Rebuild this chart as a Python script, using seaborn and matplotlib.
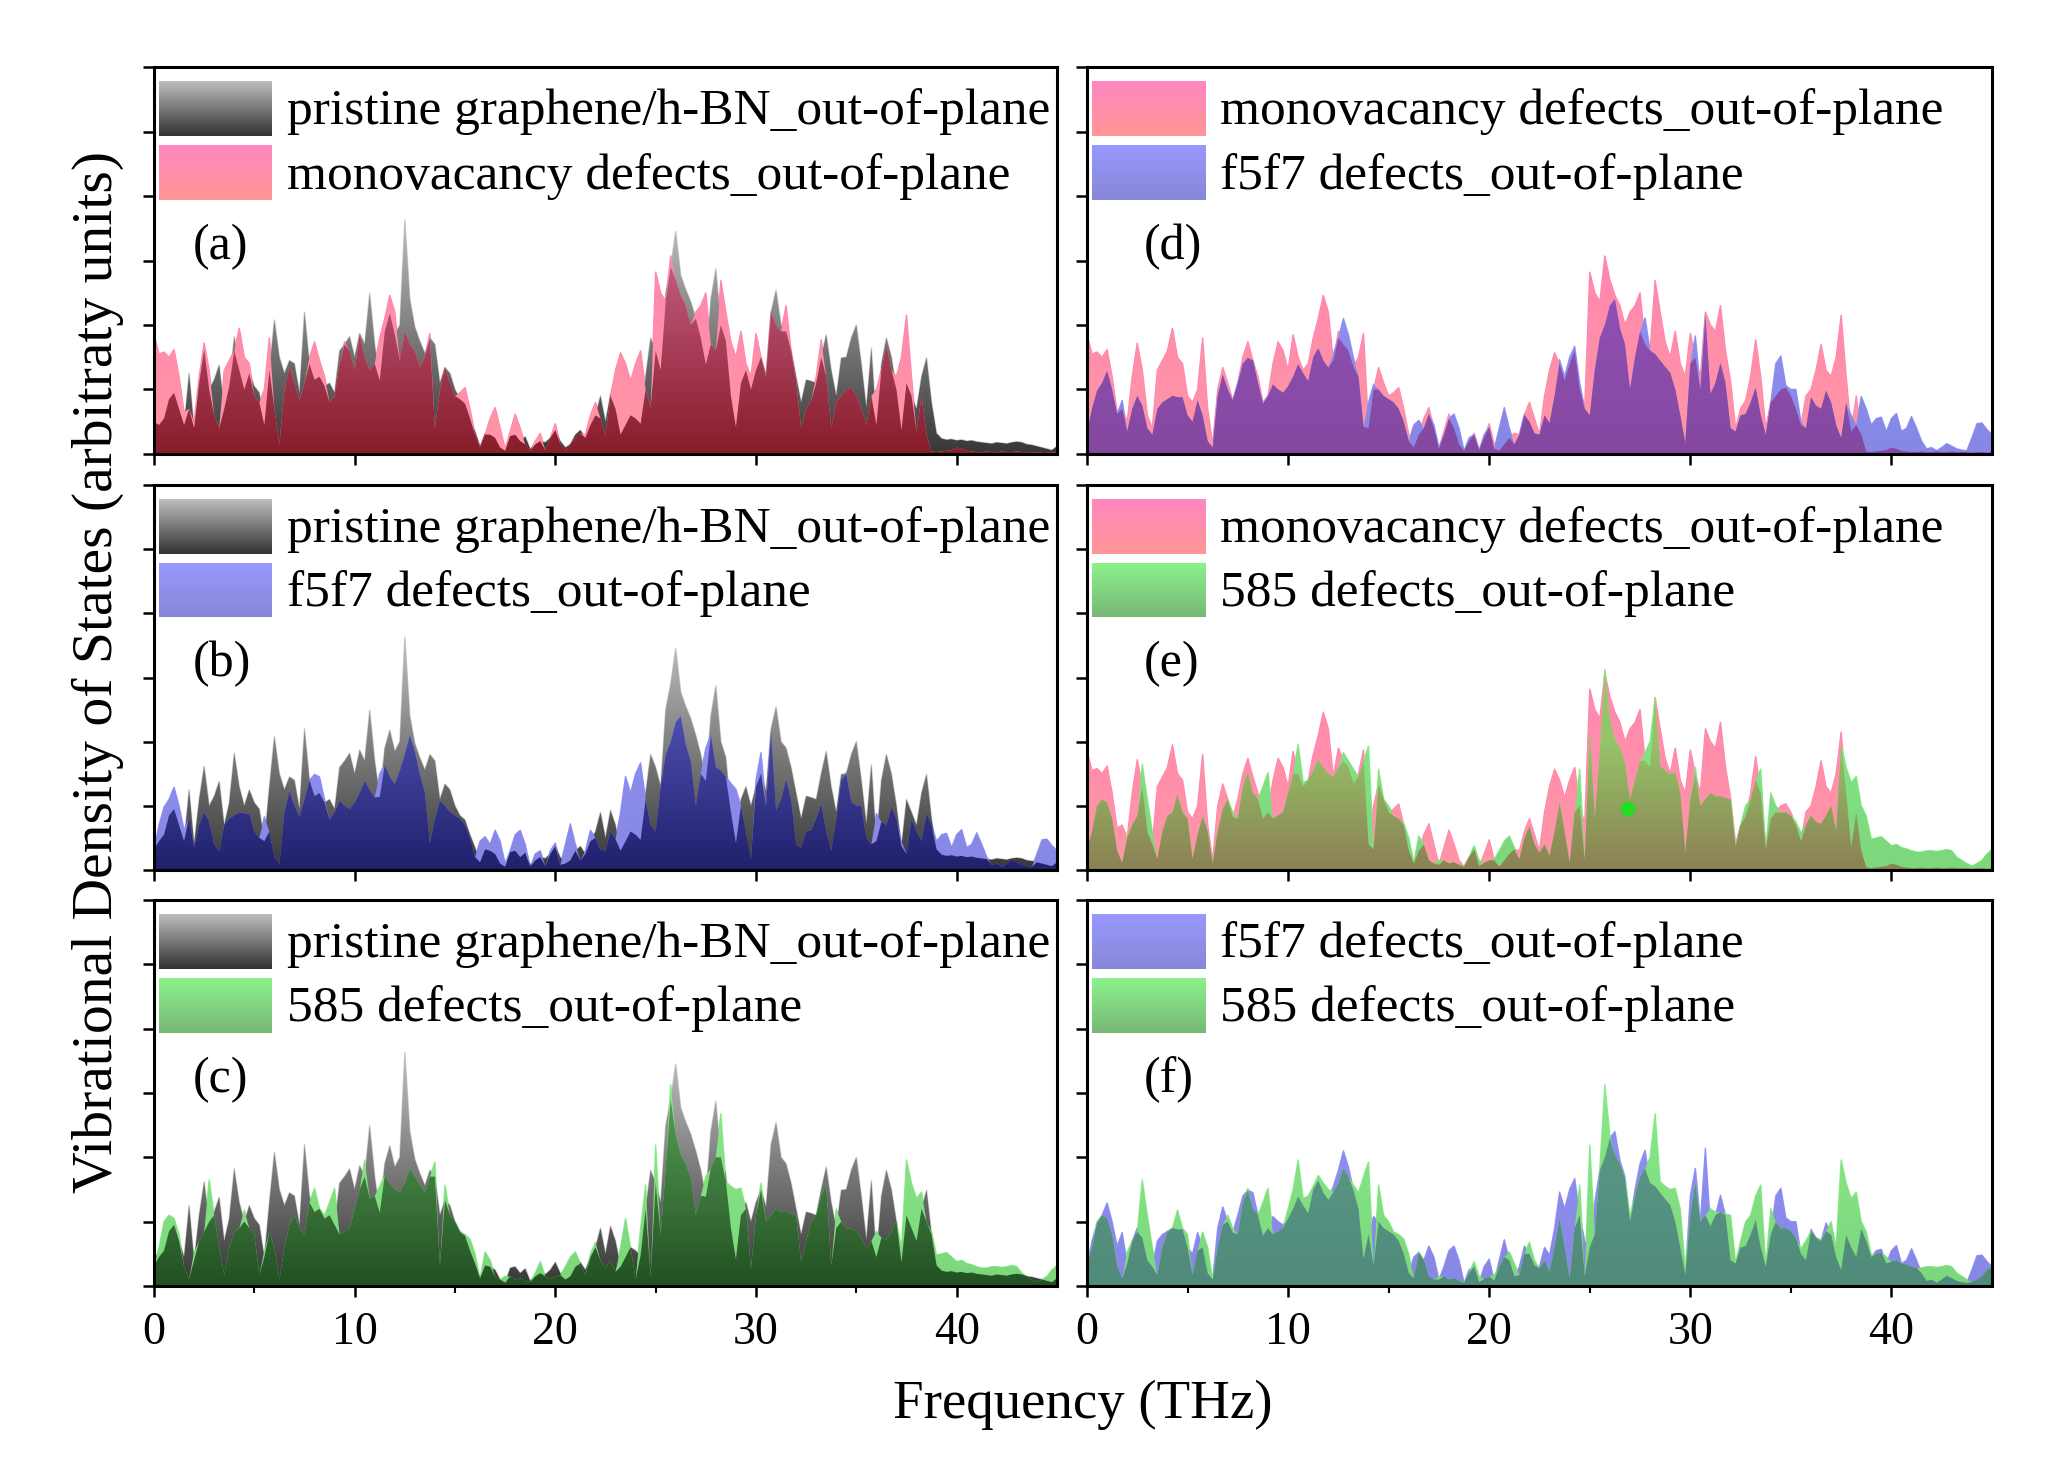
import numpy as np
import matplotlib
matplotlib.use("Agg")
import matplotlib.pyplot as plt
import seaborn as sns

# ---------------- data (arbitrary units, 0.25 THz grid, 0..45 THz) ----------------
freq = np.linspace(0, 45, 181)

pristine = [
    0.50,0.45,0.55,0.85,0.95,0.70,0.45,1.25,0.40,1.10,1.62,1.00,1.15,1.38,0.70,1.05,1.82,1.30,1.00,1.25,
    1.05,0.95,0.45,1.30,2.08,1.50,1.25,1.45,1.40,0.95,2.20,1.40,1.15,1.20,1.05,1.10,0.95,1.60,1.70,1.82,
    1.50,1.87,1.70,2.49,1.70,1.14,1.90,2.18,1.85,2.00,3.63,2.40,1.97,1.75,1.56,1.80,1.70,1.10,1.34,1.25,
    1.00,0.85,0.78,0.55,0.35,0.12,0.32,0.30,0.25,0.10,0.05,0.28,0.30,0.20,0.27,0.08,0.15,0.20,0.18,0.25,
    0.37,0.20,0.10,0.15,0.30,0.37,0.25,0.45,0.60,0.90,0.50,0.93,0.70,0.30,0.45,0.60,0.55,0.47,1.20,1.80,
    1.60,1.30,2.50,2.90,3.45,2.77,2.55,2.36,2.10,1.80,1.39,2.40,2.87,2.00,1.75,0.90,0.42,1.10,1.30,1.00,
    1.30,1.50,1.23,2.20,2.54,2.00,1.90,1.60,1.20,0.80,1.15,1.13,1.10,1.50,1.85,1.30,0.90,1.49,1.50,1.80,
    2.00,1.40,0.72,1.64,0.45,1.40,1.80,1.50,1.00,0.37,1.10,0.90,0.70,1.20,1.49,0.80,0.32,0.24,0.22,0.23,
    0.21,0.22,0.20,0.21,0.19,0.18,0.17,0.16,0.18,0.17,0.16,0.18,0.19,0.18,0.15,0.14,0.12,0.10,0.08,0.06,
    0.12]

monovacancy = [
    1.85,1.55,1.58,1.50,1.62,1.20,0.65,0.70,0.50,1.20,1.72,1.30,0.60,0.40,1.30,1.45,1.60,1.95,1.50,1.40,
    0.90,0.80,1.00,1.80,0.70,0.15,1.00,1.34,1.10,0.83,1.10,1.50,1.74,1.45,1.20,0.80,0.90,1.40,1.74,1.60,
    1.30,1.85,1.50,1.30,1.40,1.80,2.10,2.46,2.20,1.45,1.90,1.70,1.60,1.35,1.50,1.87,0.40,1.00,1.34,1.10,
    0.90,0.95,1.03,0.70,0.30,0.10,0.30,0.55,0.72,0.40,0.08,0.35,0.62,0.40,0.15,0.05,0.20,0.32,0.06,0.25,
    0.47,0.15,0.05,0.15,0.25,0.32,0.30,0.60,0.80,0.55,0.30,0.90,1.30,1.57,1.40,1.13,1.40,1.60,1.00,0.72,
    2.82,2.50,2.36,3.07,2.70,2.46,2.30,2.00,2.20,2.30,2.50,1.70,1.60,2.69,2.20,1.74,1.50,1.90,1.40,1.20,
    1.87,1.50,1.20,2.20,2.00,1.90,2.30,1.60,1.13,0.40,0.70,0.83,1.20,1.77,1.20,0.40,0.80,0.90,1.00,1.03,
    0.90,0.70,0.45,0.90,1.00,1.30,1.70,1.30,1.20,1.50,2.15,1.20,0.35,0.90,0.30,0.04,0.03,0.04,0.05,0.06,
    0.10,0.08,0.05,0.04,0.03,0.03,0.04,0.03,0.03,0.04,0.03,0.03,0.04,0.03,0.03,0.03,0.02,0.03,0.03,0.02,
    0.03]

f5f7 = [
    0.32,0.70,0.98,1.10,1.29,1.00,0.62,0.83,0.35,0.70,0.90,0.75,0.40,0.30,0.70,0.80,0.85,0.90,0.88,0.88,
    0.60,0.50,0.83,0.60,0.20,0.10,0.90,1.23,1.00,0.83,1.10,1.40,1.49,1.45,1.10,0.78,0.90,1.08,1.00,0.95,
    1.05,1.20,1.39,1.25,1.13,1.50,1.64,1.45,1.34,1.55,1.80,2.10,1.85,1.49,1.20,0.42,0.80,1.08,1.00,0.90,
    0.85,0.80,0.70,0.50,0.20,0.45,0.52,0.40,0.62,0.45,0.10,0.30,0.55,0.62,0.40,0.05,0.25,0.30,0.06,0.30,
    0.42,0.08,0.40,0.72,0.40,0.15,0.30,0.62,0.50,0.32,0.30,0.60,0.48,0.90,1.46,1.20,1.50,1.67,1.10,0.70,
    0.60,1.30,1.80,2.00,2.30,2.40,1.95,1.70,1.00,1.50,1.90,2.11,1.60,1.55,1.45,1.35,1.26,1.00,0.60,0.17,
    1.40,1.83,1.00,2.14,0.93,1.10,1.41,1.10,0.40,0.35,0.60,0.62,0.80,1.03,0.60,0.30,0.80,1.40,1.52,1.06,
    1.00,1.00,0.50,0.40,0.88,0.75,0.70,0.98,0.80,0.45,0.25,0.79,0.60,0.45,0.89,0.70,0.45,0.55,0.57,0.35,
    0.55,0.63,0.35,0.40,0.58,0.40,0.20,0.08,0.10,0.05,0.10,0.16,0.12,0.08,0.06,0.05,0.25,0.47,0.48,0.38,
    0.30]

d585 = [
    0.32,0.60,1.00,1.10,1.05,0.80,0.30,0.11,0.53,0.70,0.84,1.65,1.10,0.60,0.17,0.60,0.84,0.90,1.18,0.90,
    0.80,0.17,0.55,0.84,0.60,0.10,0.60,0.95,1.10,0.90,0.80,1.30,1.52,1.20,1.10,1.30,1.52,0.80,0.85,0.90,
    1.20,1.50,1.96,1.36,1.40,1.55,1.72,1.60,1.50,1.46,1.60,1.83,1.70,1.57,1.45,1.70,1.93,0.32,1.57,1.10,
    1.00,0.84,0.80,0.73,0.50,0.12,0.53,0.40,0.15,0.10,0.15,0.15,0.10,0.12,0.08,0.06,0.20,0.38,0.15,0.11,
    0.15,0.17,0.30,0.45,0.53,0.35,0.17,0.50,0.68,0.40,0.27,0.40,0.22,0.60,1.05,0.60,0.11,0.90,1.57,0.15,
    2.19,0.80,1.83,3.13,2.35,2.04,1.90,1.67,1.10,1.40,1.70,1.83,2.00,2.68,1.62,1.55,1.50,1.52,1.20,0.27,
    1.10,1.60,1.00,1.10,1.20,1.15,1.15,1.12,1.10,0.37,0.70,1.00,1.10,1.40,1.57,0.32,1.20,1.00,0.89,0.90,
    0.85,0.75,0.58,0.70,0.85,0.75,0.72,0.85,1.00,0.60,1.96,1.60,1.36,1.46,1.00,0.84,0.48,0.50,0.52,0.45,
    0.38,0.40,0.35,0.33,0.30,0.28,0.28,0.30,0.30,0.29,0.30,0.32,0.30,0.20,0.15,0.10,0.06,0.10,0.15,0.25,
    0.32]

# stray green marker that appears in panel (e)
e_marker_x = [26.9]
e_marker_y = [0.95]

series_labels = {
    "pristine": "pristine graphene/h-BN_out-of-plane",
    "mono": "monovacancy defects_out-of-plane",
    "f5f7": "f5f7 defects_out-of-plane",
    "585": "585 defects_out-of-plane",
}
series_values = {"pristine": pristine, "mono": monovacancy, "f5f7": f5f7, "585": d585}

panel_letters = ["(a)", "(b)", "(c)", "(d)", "(e)", "(f)"]
panel_pairs = [("pristine", "mono"), ("pristine", "f5f7"), ("pristine", "585"),
               ("mono", "f5f7"), ("mono", "585"), ("f5f7", "585")]
xtick_labels = ["0", "10", "20", "30", "40"]

# ---------------- styles ----------------
alone_col = {
    "pristine": ((55, 55, 55), (205, 205, 205)),
    "mono": ((255, 150, 165), (255, 132, 178)),
    "f5f7": ((135, 135, 228), (148, 148, 250)),
    "585": ((125, 215, 125), (140, 238, 140)),
}
overlap_col = {
    ("pristine", "mono"): ((135, 28, 42), (215, 112, 155)),
    ("pristine", "f5f7"): ((32, 32, 108), (110, 110, 220)),
    ("pristine", "585"): ((34, 80, 34), (105, 185, 105)),
    ("mono", "f5f7"): ((132, 72, 160), (152, 86, 192)),
    ("mono", "585"): ((140, 128, 84), (150, 196, 104)),
    ("f5f7", "585"): ((80, 138, 122), (96, 162, 142)),
}
overlap_gtop = {("mono", "585"): 2.0}
legend_col = {
    "pristine": ((50, 50, 50), (190, 190, 190)),
    "mono": ((255, 150, 150), (255, 135, 192)),
    "f5f7": ((135, 135, 215), (152, 152, 255)),
    "585": ((118, 185, 118), (140, 242, 140)),
}

sns.set_theme(style="ticks")
plt.rcParams["font.family"] = ["Liberation Serif", "DejaVu Serif"]

W, H = 2048, 1476
fig = plt.figure(figsize=(W / 100, H / 100), dpi=100, facecolor="white")

col_x = [154 / W, 1087 / W]
col_w = [903 / W, 905 / W]
row_top = [67, 485, 900]
row_bot = [454, 870, 1286]

YTOP = 6.0
GRAD_TOP = 4.0


def grad_img(c_bot, c_top, n=300, span=YTOP, gtop=GRAD_TOP):
    yy = np.linspace(0, span, n)
    t = np.clip(yy / gtop, 0, 1)[:, None]
    arr = (np.array(c_bot) * (1 - t) + np.array(c_top) * t) / 255.0
    return arr.reshape(n, 1, 3)


def grad_fill(ax, x, y, cols, z, gtop=GRAD_TOP):
    poly = ax.fill_between(x, 0, y, facecolor="none", edgecolor="none", zorder=z)
    path = poly.get_paths()[0]
    im = ax.imshow(grad_img(*cols, gtop=gtop), extent=[0, 45, 0, YTOP], origin="lower",
                   aspect="auto", interpolation="bilinear", zorder=z)
    im.set_clip_path(path, transform=ax.transData)


for i, ((a, b), letter) in enumerate(zip(panel_pairs, panel_letters)):
    col, row = divmod(i, 3)
    bottom = 1 - row_bot[row] / H
    height = (row_bot[row] - row_top[row]) / H
    ax = fig.add_axes([col_x[col], bottom, col_w[col], height])

    ya = np.array(series_values[a])
    yb = np.array(series_values[b])

    sns.lineplot(x=freq, y=ya, ax=ax, color=np.array(alone_col[a][1]) / 255, lw=1.0,
                 zorder=0.5, errorbar=None, legend=False)
    sns.lineplot(x=freq, y=yb, ax=ax, color=np.array(alone_col[b][1]) / 255, lw=1.0,
                 zorder=0.5, errorbar=None, legend=False)
    grad_fill(ax, freq, ya, alone_col[a], 1)
    grad_fill(ax, freq, yb, alone_col[b], 2)
    grad_fill(ax, freq, np.minimum(ya, yb), overlap_col[(a, b)], 3,
              gtop=overlap_gtop.get((a, b), GRAD_TOP))

    if letter == "(e)":
        sns.scatterplot(x=e_marker_x, y=e_marker_y, ax=ax, color="#22dd22", s=110,
                        edgecolor="none", zorder=4, legend=False)

    ax.set_xlim(0, 45)
    ax.set_ylim(0, YTOP)
    ax.set_xticks([0, 10, 20, 30, 40])
    ax.set_yticks(range(7))
    ax.set_yticklabels([])
    ax.set_xlabel("")
    ax.set_ylabel("")
    for s in ax.spines.values():
        s.set_visible(True)
        s.set_color("black")
        s.set_linewidth(2.2)
        s.set_zorder(10)
    ax.tick_params(axis="both", which="major", direction="out", length=8, width=1.8,
                   color="black", labelsize=33, pad=10, labelcolor="black")
    if row == 2:
        ax.set_xticklabels(xtick_labels)
        ax.set_xticks([5, 15, 25, 35], minor=True)
        ax.tick_params(axis="x", which="minor", direction="out", length=5, width=1.5,
                       color="black")
    else:
        ax.set_xticklabels([])
    ax.set_facecolor("white")

    # legend-like swatches with gradients
    for k, name in enumerate((a, b)):
        y0 = 0.822 - k * 0.166
        sw = ax.inset_axes([0.0055, y0, 0.125, 0.142])
        sw.imshow(grad_img(*legend_col[name], n=100, span=1, gtop=1), origin="lower",
                  aspect="auto", extent=[0, 1, 0, 1], interpolation="bilinear")
        sw.set_axis_off()
        ax.text(0.147, y0 + 0.062, series_labels[name], transform=ax.transAxes,
                ha="left", va="center", fontsize=37, color="black", zorder=12)

    lx = 0.043 if col == 0 else 0.063
    ax.text(lx, 0.535, letter, transform=ax.transAxes, ha="left", va="center",
            fontsize=36, color="black", zorder=12)

fig.text(1083 / W, 1 - 1405 / H, "Frequency (THz)", ha="center", va="center",
         fontsize=39.5, color="black")
fig.text(98 / W, 1 - 672 / H, "Vibrational Density of States (arbitraty units)",
         ha="center", va="center", rotation=90, fontsize=41.5, color="black")

fig.savefig("out.png", dpi=100, facecolor="white")
